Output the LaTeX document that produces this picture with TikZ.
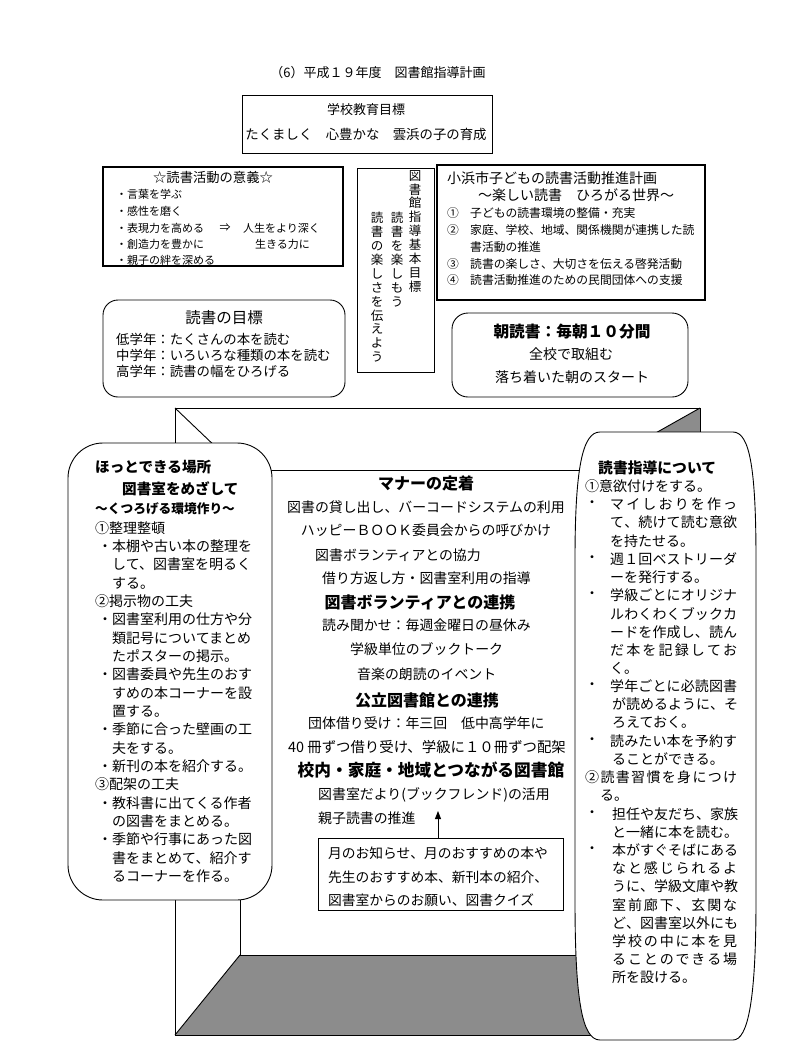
\documentclass[tikz,border=0pt]{standalone}
\usepackage{fontspec}
\newfontfamily\jp{Noto Sans CJK JP}
\usetikzlibrary{arrows.meta}
\newcommand\fz[1]{\jp\fontsize{#1}{#1}\selectfont}
\def\sprEnd{}
\def\sprA#1#2{#1\ifx#2\sprEnd\else\hfill\expandafter\sprA\expandafter#2\fi}
\newcommand\jus[2]{\makebox[#1][s]{\sprA#2\sprEnd}}
\tikzset{
  ln/.style={inner sep=0pt, anchor=west, font=\fz{#1}},
  cn/.style={inner sep=0pt, anchor=center, font=\fz{#1}},
  lnb/.style={inner sep=0pt, anchor=west, font=\fz{#1}\bfseries},
  cnb/.style={inner sep=0pt, anchor=center, font=\fz{#1}\bfseries},
  box/.style={draw, line width=0.9pt, fill=white, inner sep=0pt},
  vcol/.style={inner sep=0pt, anchor=north, align=center, font=\jp\fontsize{12.5}{13.9}\selectfont},
  room/.style={line width=0.9pt},
  wall/.style={fill=black!45},
}
\begin{document}
\begin{tikzpicture}[x=1pt,y=-1pt]
\useasboundingbox[fill=white] (0,0) rectangle (787,1058);

% ---------- title ----------
\node[cn=13] (title) at (378,73) {（6）平成１９年度　図書館指導計画};

% ---------- school goal ----------
\node[box, minimum width=250pt, minimum height=58pt] (goalbox) at (367,124) {};
\node[cn=13] (goal1) at (366,110) {学校教育目標};
\node[cn=13.4] (goal2) at (366,134) {たくましく　心豊かな　雲浜の子の育成};

% ---------- reading significance ----------
\node[box, line width=1.1pt, minimum width=240pt, minimum height=99pt] (igibox) at (223,216.5) {};
\node[cn=13.3] (igi0) at (213,177) {☆読書活動の意義☆};
\node[ln=11] (igi1) at (116,194) {・言葉を学ぶ};
\node[ln=11] (igi2) at (116,211) {・感性を磨く};
\node[ln=11] (igi3) at (116,228) {・表現力を高める};
\node[cn=11] (igiar) at (225,228) {⇒};
\node[ln=11] (igi3b) at (243,228) {人生をより深く};
\node[ln=11] (igi4) at (116,244) {・創造力を豊かに};
\node[ln=11] (igi4b) at (255,244) {生きる力に};
\node[ln=11] (igi5) at (116,260) {・親子の絆を深める};

% ---------- vertical box ----------
\node[box, minimum width=77pt, minimum height=204pt] (vbox) at (395.5,270) {};
\node[vcol] (vc1) at (415,170) {図\\書\\館\\指\\導\\基\\本\\目\\標};
\node[vcol] (vc2) at (397,212) {読\\書\\を\\楽\\し\\も\\う};
\node[vcol] (vc3) at (377,212) {読\\書\\の\\楽\\し\\さ\\を\\伝\\え\\よ\\う};

% ---------- Obama city plan ----------
\node[box, line width=1.1pt, minimum width=268pt, minimum height=135pt] (cbox) at (571,232.5) {};
\node[ln=14] (c0) at (447,178) {小浜市子どもの読書活動推進計画};
\node[ln=14] (c1) at (478,195) {～楽しい読書　ひろがる世界～};
\node[ln=11.8] (c2n) at (447,213) {①};
\node[ln=11.8] (c2) at (470,213) {子どもの読書環境の整備・充実};
\node[ln=11.8] (c3n) at (447,230) {②};
\node[ln=11.8] (c3) at (470,230) {家庭、学校、地域、関係機関が連携した読};
\node[ln=11.8] (c3b) at (470,247) {書活動の推進};
\node[ln=11.8] (c4n) at (447,264) {③};
\node[ln=11.8] (c4) at (470,264) {読書の楽しさ、大切さを伝える啓発活動};
\node[ln=11.8] (c5n) at (447,280) {④};
\node[ln=11.8] (c5) at (470,280) {読書活動推進のための民間団体への支援};

% ---------- reading goals ----------
\node[box, rounded corners=15pt, minimum width=242pt, minimum height=97pt] (gbox) at (224,348.5) {};
\node[cn=15.5] (g0) at (224,318) {読書の目標};
\node[ln=13.4] (g1) at (116,339) {低学年：たくさんの本を読む};
\node[ln=13.4] (g2) at (116,355) {中学年：いろいろな種類の本を読む};
\node[ln=13.4] (g3) at (116,371) {高学年：読書の幅をひろげる};

% ---------- morning reading ----------
\node[box, rounded corners=16pt, minimum width=236pt, minimum height=84pt] (abox) at (570,355) {};
\node[cnb=15.7] (a0) at (572,332) {朝読書：毎朝１０分間};
\node[cn=14] (a1) at (571,354) {全校で取組む};
\node[cn=14] (a2) at (572,377) {落ち着いた朝のスタート};

% ---------- the room ----------
\coordinate (OTL) at (175,408);
\coordinate (OTR) at (700,408);
\coordinate (OBL) at (175,1035);
\coordinate (OBR) at (700,1035);
\coordinate (ITL) at (240,470);
\coordinate (ITR) at (590,470);
\coordinate (IBL) at (240,955);
\coordinate (IBR) at (590,955);
\fill[wall] (IBL) -- (IBR) -- (OBR) -- (OBL) -- cycle;
\fill[wall] (ITR) -- (OTR) -- (OBR) -- (IBR) -- cycle;
\draw[room] (OTL) -- (OTR) -- (OBR) -- (OBL) -- cycle;
\draw[room] (ITL) rectangle (IBR);
\draw[room] (OTL) -- (ITL) (OTR) -- (ITR) (OBL) -- (IBL) (OBR) -- (IBR);

% ---------- centre texts ----------
\node[cnb=16] (m0) at (426,483) {マナーの定着};
\node[cn=13.9] (m1) at (426,507) {図書の貸し出し、バーコードシステムの利用};
\node[cn=13.9] (m2) at (426,530) {ハッピーＢＯＯＫ委員会からの呼びかけ};
\node[ln=13.9] (m3) at (315,555) {図書ボランティアとの協力};
\node[ln=13.9] (m4) at (322,578) {借り方返し方・図書室利用の指導};
\node[cnb=16] (v0) at (420,602) {図書ボランティアとの連携};
\node[ln=13.9] (v1) at (322,625) {読み聞かせ：毎週金曜日の昼休み};
\node[ln=13.9] (v2) at (350,649) {学級単位のブックトーク};
\node[ln=13.9] (v3) at (357,674) {音楽の朗読のイベント};
\node[cnb=16] (p0) at (427,700) {公立図書館との連携};
\node[ln=13.9] (p1) at (308,723) {団体借り受け：年三回　低中高学年に};
\node[cn=14.4] (p2) at (427,747) {40 冊ずつ借り受け、学級に１０冊ずつ配架};
\node[cnb=16.7] (k0) at (431,770) {校内・家庭・地域とつながる図書館};
\node[ln=13.9] (k1) at (318,795) {図書室だより(ブックフレンド)の活用};
\node[ln=13.9] (k2) at (318,818) {親子読書の推進};
\node[box, minimum width=245pt, minimum height=72pt] (nbox) at (440.5,874) {};
\node[ln=13.75] (n1) at (328,853) {月のお知らせ、月のおすすめの本や};
\node[ln=13.75] (n2) at (328,877) {先生のおすすめ本、新刊本の紹介、};
\node[ln=13.75] (n3) at (328,900) {図書室からのお願い、図書クイズ};
\coordinate (arrtip) at (438,811);
\draw[line width=0.9pt, -{Triangle[width=6pt,length=8pt]}] (nbox.north -| arrtip) -- (arrtip);

% ---------- left rounded box ----------
\node[box, rounded corners=35pt, minimum width=204pt, minimum height=457pt] (lbox) at (170,671.5) {};
\node[lnb=14.6] (l0) at (95,467) {ほっとできる場所};
\node[lnb=14.6] (l1) at (122,489) {図書室をめざして};
\node[lnb=12.7] (l2) at (95,509) {～くつろげる環境作り～};
\node[ln=14] (l3) at (95,528) {①整理整頓};
\node[ln=14] (l4) at (98,546.3) {・本棚や古い本の整理を};
\node[ln=14] (l5) at (112,564.6) {して、図書室を明るく};
\node[ln=14] (l6) at (112,583) {する。};
\node[ln=14] (l7) at (95,601.3) {②掲示物の工夫};
\node[ln=14] (l8) at (98,619.6) {・図書室利用の仕方や分};
\node[ln=14] (l9) at (112,637.9) {類記号についてまとめ};
\node[ln=14] (l10) at (112,656.2) {たポスターの掲示。};
\node[ln=14] (l11) at (98,674.6) {・図書委員や先生のおす};
\node[ln=14] (l12) at (112,692.9) {すめの本コーナーを設};
\node[ln=14] (l13) at (112,711.2) {置する。};
\node[ln=14] (l14) at (98,729.5) {・季節に合った壁画の工};
\node[ln=14] (l15) at (112,747.8) {夫をする。};
\node[ln=14] (l16) at (98,766.2) {・新刊の本を紹介する。};
\node[ln=14] (l17) at (95,784.5) {③配架の工夫};
\node[ln=14] (l18) at (98,802.8) {・教科書に出てくる作者};
\node[ln=14] (l19) at (112,821.1) {の図書をまとめる。};
\node[ln=14] (l20) at (98,839.4) {・季節や行事にあった図};
\node[ln=14] (l21) at (112,857.8) {書をまとめて、紹介す};
\node[ln=14] (l22) at (112,876) {るコーナーを作る。};

% ---------- right rounded box ----------
\draw[box] (600,432) -- (733,432) .. controls (750,432) and (756,470) .. (756,560) -- (756,900) .. controls (756,1000) and (748,1040) .. (733,1040) -- (600,1040) .. controls (582,1040) and (575,1000) .. (575,900) -- (575,560) .. controls (575,470) and (582,432) .. (600,432) -- cycle;
\node[lnb=14.8] (r0) at (598,468) {読書指導について};
\node[ln=14] (r1) at (585,486.2) {①意欲付けをする。};
\node[cn=14] (r2d) at (592,504.4) {・};
\node[ln=14] (r2) at (610,504.4) {\jus{127pt}{マイしおりを作っ}};
\node[ln=14] (r3) at (610,522.6) {\jus{127pt}{て、続けて読む意欲}};
\node[ln=14] (r4) at (610,540.8) {を持たせる。};
\node[cn=14] (r5d) at (592,559) {・};
\node[ln=14] (r5) at (610,559) {\jus{127pt}{週１回ベストリーダ}};
\node[ln=14] (r6) at (610,577.2) {ーを発行する。};
\node[cn=14] (r7d) at (592,595.4) {・};
\node[ln=14] (r7) at (610,595.4) {\jus{127pt}{学級ごとにオリジナ}};
\node[ln=14] (r8) at (610,613.6) {\jus{127pt}{ルわくわくブックカ}};
\node[ln=14] (r9) at (610,631.8) {\jus{127pt}{ードを作成し、読ん}};
\node[ln=14] (r10) at (610,650) {\jus{127pt}{だ本を記録してお}};
\node[ln=14] (r11) at (610,668.2) {く。};
\node[cn=14] (r12d) at (592,686.4) {・};
\node[ln=14] (r12) at (610,686.4) {\jus{127pt}{学年ごとに必読図書}};
\node[ln=14] (r13) at (612,704.6) {\jus{125pt}{が読めるように、そ}};
\node[ln=14] (r14) at (612,722.8) {ろえておく。};
\node[cn=14] (r15d) at (592,741) {・};
\node[ln=14] (r15) at (610,741) {\jus{127pt}{読みたい本を予約す}};
\node[ln=14] (r16) at (612,759.2) {ることができる。};
\node[ln=14] (r17) at (585,777.4) {\jus{152pt}{②読書習慣を身につけ}};
\node[ln=14] (r18) at (600,795.6) {る。};
\node[cn=14] (r19d) at (592,813.8) {・};
\node[ln=14] (r19) at (612,813.8) {\jus{125pt}{担任や友だち、家族}};
\node[ln=14] (r20) at (612,832) {と一緒に本を読む。};
\node[cn=14] (r21d) at (592,850.2) {・};
\node[ln=14] (r21) at (612,850.2) {\jus{125pt}{本がすぐそばにある}};
\node[ln=14] (r22) at (612,868.4) {\jus{125pt}{なと感じられるよ}};
\node[ln=14] (r23) at (612,886.6) {\jus{125pt}{うに、学級文庫や教}};
\node[ln=14] (r24) at (612,904.8) {\jus{125pt}{室前廊下、玄関な}};
\node[ln=14] (r25) at (612,923) {\jus{125pt}{ど、図書室以外にも}};
\node[ln=14] (r26) at (612,941.2) {\jus{125pt}{学校の中に本を見}};
\node[ln=14] (r27) at (612,959.4) {\jus{125pt}{ることのできる場}};
\node[ln=14] (r28) at (612,977.6) {所を設ける。};
\end{tikzpicture}
\end{document}
